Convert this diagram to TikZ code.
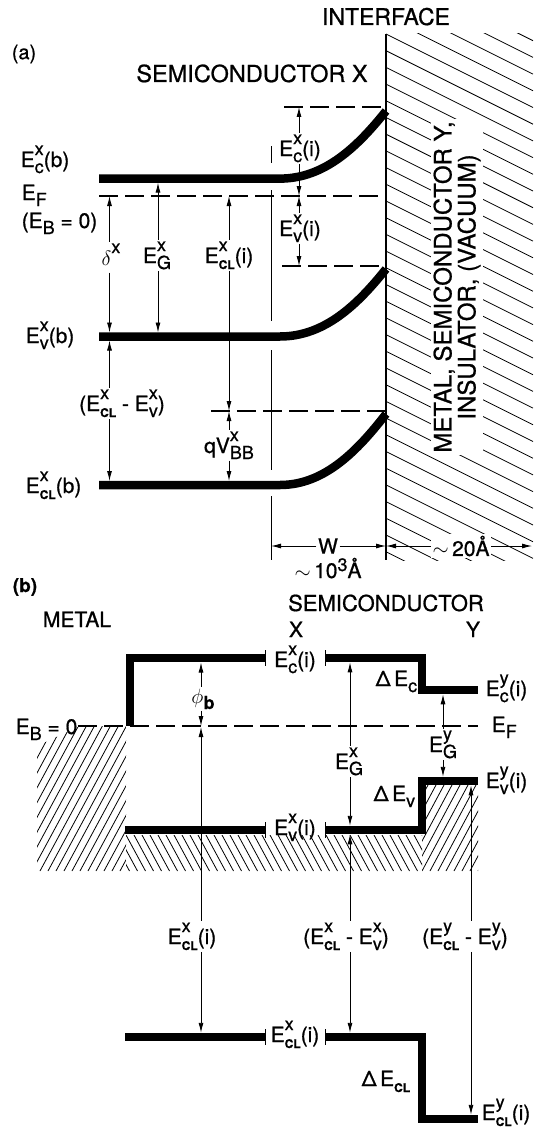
\documentclass[tikz,border=0pt]{standalone}
\usepackage{fontspec}
\setmainfont[FakeBold=0.8]{TeX Gyre Heros}
\usetikzlibrary{arrows.meta}
\newsavebox\supbox
\newsavebox\subbox
\newlength\sswd
\newcommand\supf{\fontsize{18}{18}\selectfont}
\newcommand\subf{\fontsize{18}{18}\selectfont}
\newcommand\clf{\fontsize{12}{12}\selectfont\bfseries}
\newcommand\labf{\fontsize{21}{24}\selectfont}
\newcommand\SupSub[2]{%
 \sbox\supbox{\supf #1}\sbox\subbox{\subf #2}%
 \ifdim\wd\supbox>\wd\subbox\setlength\sswd{\wd\supbox}\else\setlength\sswd{\wd\subbox}\fi
 \rlap{\raisebox{12pt}{\usebox\supbox}}\rlap{\raisebox{-6pt}{\usebox\subbox}}\hspace*{\sswd}}
\newcommand\Sub[1]{\raisebox{-6pt}{\subf #1}}
\newcommand\CL{{\clf CL}}
\tikzset{
  every node/.style={inner sep=1.5pt, font=\labf},
  band/.style={line width=8.5pt},
  thinl/.style={line width=0.9pt},
  arr/.style={line width=0.9pt, -{Latex[length=10pt,width=5pt]}},
  dsh/.style={line width=1.1pt, dash pattern=on 19pt off 7pt},
  hatchl/.style={line width=0.8pt},
}
\begin{document}
\begin{tikzpicture}[x=1pt,y=-1pt]
\useasboundingbox (0,0) rectangle (533,1129);
% ---------------- (a) ----------------
\node[font=\fontsize{23}{23}\selectfont, anchor=base] (tIF) at (386,25) {INTERFACE};
\node[font=\fontsize{20}{20}\selectfont] (ta) at (24,54) {(a)};
\node[font=\fontsize{23.5}{23.5}\selectfont, anchor=base] (tSX) at (252,82) {SEMICONDUCTOR X};
% hatch region
\begin{scope}
\clip (386,34) rectangle (533,560);
\foreach \k in {-10,...,34} \draw[hatchl] (386,34+\k*16.7) -- ++(147,73.5);
\end{scope}
\node[rotate=90, fill=white, align=center, inner sep=2pt,
      font=\fontsize{24}{24}\selectfont] (iftext) at (457,287)
      {METAL, SEMICONDUCTOR Y,\\INSULATOR, (VACUUM)};
\draw[line width=1.5pt] (386,34) coordinate (IFtop) -- (386,560) coordinate (IFbot);
% depletion edge
\draw[thinl] (271,146) -- (271,163);
\draw[thinl] (271,190) -- (271,321);
\draw[thinl] (271,350) -- (271,470);
\draw[thinl] (271,496) -- (271,560);
% dashed levels
\draw[dsh] (99,196) coordinate (EFa) -- (386,196);
\draw[dsh] (284,107) -- (386,107);
\draw[dsh] (282,266) -- (386,266);
\draw[dsh] (211,411) -- (386,411);
% bands
\draw[band] (99,178.6) -- (280,178.6) .. controls (325,178.6) and (358,146) .. (386,111);
\draw[band] (99,336.5) -- (280,336.5) .. controls (325,336.5) and (358,304) .. (386,269);
\draw[band] (99,485) -- (280,485) .. controls (325,485) and (358,450) .. (386,414);
% left labels
\node[anchor=base west] (lEcb) at (19,167) {E\SupSub{x}{c}(b)};
\node[anchor=base west] (lEFa) at (20,200) {E\Sub{F}};
\node[anchor=base west] (lEB) at (20,228) {(E\Sub{B} = 0)};
\node[anchor=base west] (lEvb) at (24,343) {E\SupSub{x}{v}(b)};
\node[anchor=base west] (lECLb) at (24,493) {E\SupSub{x}{\CL}(b)};
% arrow x positions
\coordinate (xa1) at (109.5,0);
\coordinate (xa3) at (158,0);
\coordinate (xa4) at (229,0);
\coordinate (xa6) at (299,0);
% delta
\node[anchor=base] (ldel) at (111,265) {$\delta$\SupSub{x}{}};
\draw[arr] (xa1 |- ldel.north) -- (109.5,196);
\draw[arr] (xa1 |- ldel.south) -- (109.5,332.5);
% Ecl - Ev
\node[anchor=base] (lclv) at (122,411) {(E\SupSub{x}{\CL} - E\SupSub{x}{v})};
\draw[arr] (xa1 |- lclv.north) -- (109.5,340.5);
\draw[arr] (xa1 |- lclv.south) -- (109.5,481);
% EG
\node[anchor=base] (lEG) at (157,263) {E\SupSub{x}{G}};
\draw[arr] (xa3 |- lEG.north) -- (158,182.6);
\draw[arr] (xa3 |- lEG.south) -- (158,332.5);
% ECL(i)
\node[anchor=base] (lECLi) at (229,263) {E\SupSub{x}{\CL}(i)};
\draw[arr] (xa4 |- lECLi.north) -- (229,196);
\draw[arr] (xa4 |- lECLi.south) -- (229,411);
% qVBB
\node[anchor=base] (lqV) at (229,453) {qV\SupSub{x}{BB}};
\draw[arr] (xa4 |- lqV.north) -- (229,411);
\draw[arr] (xa4 |- lqV.south) -- (229,481);
% Ec(i)
\node[anchor=base] (lEci) at (300,156) {E\SupSub{x}{c}(i)};
\draw[arr] (xa6 |- lEci.north) -- (299,107);
\draw[arr] (xa6 |- lEci.south) -- (299,196);
% Ev(i)
\node[anchor=base] (lEvi) at (300,236) {E\SupSub{x}{v}(i)};
\draw[arr] (xa6 |- lEvi.north) -- (299,196);
\draw[arr] (xa6 |- lEvi.south) -- (299,266);
% dimensions
\node (lW) at (328,546) {W};
\draw[arr] (lW.west) -- (271,546);
\draw[arr] (lW.east) -- (386,546);
\node[fill=white] (l20) at (461,546) {$\sim$\,20Å};
\draw[arr] (l20.west) -- (386,546);
\draw[arr] (l20.east) -- (532,546);
\node[anchor=base] (l103) at (328,578) {$\sim$\,10\raisebox{7pt}{\subf 3}Å};
% ---------------- (b) ----------------
\node[font=\fontsize{19}{19}\selectfont\bfseries] (tb) at (25,587) {(b)};
\node[font=\fontsize{21}{21}\selectfont, anchor=base] (tM) at (77,627) {METAL};
\node[font=\fontsize{22}{22}\selectfont, anchor=base] (tS) at (386,611) {SEMICONDUCTOR};
\node[font=\fontsize{21}{21}\selectfont, anchor=base] (tX) at (296,637) {X};
\node[font=\fontsize{21}{21}\selectfont, anchor=base] (tY) at (473,637) {Y};
% hatches
\begin{scope}
\clip (80,726) -- (126,726) -- (126,871) -- (37,871) -- (37,746) -- cycle;
\foreach \k in {-12,...,14} \draw[hatchl] (40+\k*8,871) -- ++(78.4,-145);
\end{scope}
\begin{scope}
\clip (126,835) rectangle (422,871);
\foreach \k in {-3,...,38} \draw[hatchl] (126+\k*8,835) -- ++(19.5,36);
\end{scope}
\begin{scope}
\clip (422,785) rectangle (478,871);
\foreach \k in {-7,...,8} \draw[hatchl] (422+\k*8,871) -- ++(46,-86);
\end{scope}
% Fermi level
\draw[dsh] (78,726) coordinate (EFb) -- (478,726);
% bands
\draw[band, line join=miter] (130,726) -- (130,658) -- (265,658);
\draw[band, line join=miter] (325,658) -- (422,658) -- (422,690) -- (478,690);
\draw[band] (125,830) -- (265,830);
\draw[band, line join=miter] (325,830) -- (422,830) -- (422,781) -- (478,781);
\draw[band] (125,1037) -- (265,1037);
\draw[band, line join=miter] (325,1037) -- (422,1037) -- (422,1119) -- (478,1119);
% ticks
\foreach \yy in {658,830,1037} {
  \draw[thinl] (265,\yy-8) -- (265,\yy+8);
  \draw[thinl] (325,\yy-8) -- (325,\yy+8);
}
% band labels
\node[anchor=base] (lbEc) at (295,667) {E\SupSub{x}{c}(i)};
\node[anchor=base] (lbEv) at (295,835) {E\SupSub{x}{v}(i)};
\node[anchor=base] (lbECL) at (295,1042) {E\SupSub{x}{\CL}(i)};
\node[anchor=base west] (lbEcy) at (484,696) {E\SupSub{y}{c}(i)};
\node[anchor=base west] (lbEF) at (490,732) {E\Sub{F}};
\node[anchor=base west] (lbEvy) at (484,788) {E\SupSub{y}{v}(i)};
\node[anchor=base west] (lbECLy) at (480,1120) {E\SupSub{y}{\CL}(i)};
\node[anchor=base west] (lbEB) at (14,734) {E\Sub{B} = 0};
\node[anchor=base west] (lbdEc) at (374,686) {Δ\,E\Sub{c}};
\node[anchor=base west] (lbdEv) at (372,801) {Δ\,E\Sub{v}};
\node[anchor=base west] (lbdECL) at (360,1086) {Δ\,E\Sub{\CL}};
% arrows (b)
\coordinate (xb1) at (201,0);
\coordinate (xb2) at (350,0);
\coordinate (xb3) at (443,0);
\coordinate (xb4) at (471,0);
\node[anchor=base] (lphi) at (203,703) {$\phi$\Sub{\bfseries b}};
\draw[arr] (xb1 |- lphi.north) -- (201,662.5);
\draw[arr] (xb1 |- lphi.south) -- (201,726);
\node[anchor=base] (lbECLm) at (192,944) {E\SupSub{x}{\CL}(i)};
\draw[arr] (xb1 |- lbECLm.north) -- (201,727);
\draw[arr] (xb1 |- lbECLm.south) -- (201,1032.8);
\node[anchor=base] (lbEGx) at (349,769) {E\SupSub{x}{G}};
\draw[arr] (xb2 |- lbEGx.north) -- (350,662.3);
\draw[arr] (xb2 |- lbEGx.south) -- (350,825.8);
\node[anchor=base] (lbclvx) at (346,944) {(E\SupSub{x}{\CL} - E\SupSub{x}{v})};
\draw[arr] (xb2 |- lbclvx.north) -- (350,834.3);
\draw[arr] (xb2 |- lbclvx.south) -- (350,1032.8);
\node[anchor=base] (lbEGy) at (443,752) {E\SupSub{y}{G}};
\draw[arr] (xb3 |- lbEGy.north) -- (443,694.3);
\draw[arr] (xb3 |- lbEGy.south) -- (443,776.8);
\node[anchor=base] (lbclvy) at (465,944) {(E\SupSub{y}{\CL} - E\SupSub{y}{v})};
\draw[arr] (xb4 |- lbclvy.north) -- (471,785.3);
\draw[arr] (xb4 |- lbclvy.south) -- (471,1114.8);
\end{tikzpicture}
\end{document}
